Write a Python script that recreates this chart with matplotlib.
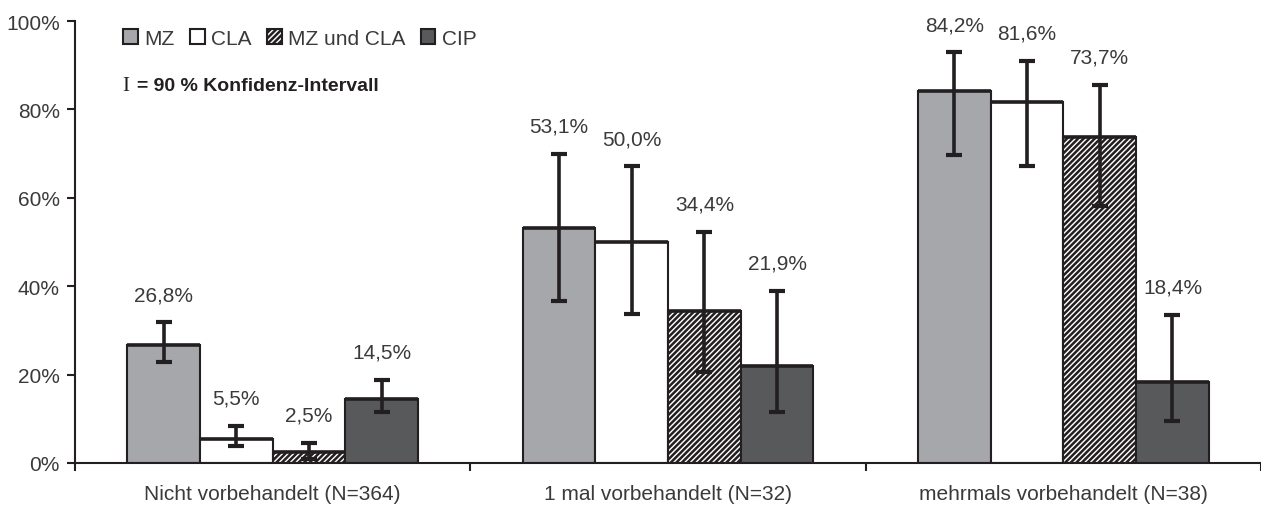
import matplotlib
matplotlib.use("Agg")
import matplotlib.pyplot as plt
import numpy as np

plt.rcParams['font.family'] = ['Liberation Sans Narrow', 'Liberation Sans', 'DejaVu Sans']
plt.rcParams['hatch.linewidth'] = 1.8

# Daten
gruppen = ["Nicht vorbehandelt (N=364)", "1 mal vorbehandelt (N=32)", "mehrmals vorbehandelt (N=38)"]
serien = ["MZ", "CLA", "MZ und CLA", "CIP"]
werte = {
    "MZ":         [26.8, 53.1, 84.2],
    "CLA":        [5.5, 50.0, 81.6],
    "MZ und CLA": [2.5, 34.4, 73.7],
    "CIP":        [14.5, 21.9, 18.4],
}
ki_unten = {
    "MZ":         [22.8, 36.7, 69.7],
    "CLA":        [3.9, 33.7, 67.1],
    "MZ und CLA": [0.9, 20.5, 58.2],
    "CIP":        [11.5, 11.5, 9.6],
}
ki_oben = {
    "MZ":         [31.8, 69.9, 92.9],
    "CLA":        [8.3, 67.1, 91.0],
    "MZ und CLA": [4.5, 52.2, 85.6],
    "CIP":        [18.8, 39.0, 33.5],
}

stil = {
    "MZ":         dict(color="#a6a7ab", hatch=None),
    "CLA":        dict(color="white", hatch=None),
    "MZ und CLA": dict(color="white", hatch="//////"),
    "CIP":        dict(color="#58595b", hatch=None),
}

dunkel = "#231f20"
textfarbe = "#3a3a3a"

fig = plt.figure(figsize=(12.61, 5.06), dpi=100)
ax = fig.add_axes([75 / 1261, 42 / 506, 1 - 75 / 1261, 442 / 506])

x = np.arange(len(gruppen))
breite = 0.184

for i, s in enumerate(serien):
    pos = x + (i - 1.5) * breite
    w = np.array(werte[s])
    ax.bar(pos, w, breite, color=stil[s]["color"], hatch=stil[s]["hatch"],
           edgecolor=dunkel, linewidth=1.5, label=s, zorder=2)
    # obere Kante etwas kraeftiger wie im Original
    ax.hlines(w, pos - breite / 2, pos + breite / 2, colors=dunkel, linewidth=2.6, zorder=2.5)
    lo = w - np.array(ki_unten[s])
    hi = np.array(ki_oben[s]) - w
    ax.errorbar(pos, w, yerr=[lo, hi], fmt="none", ecolor=dunkel, elinewidth=2.6,
                capsize=6, capthick=3, zorder=3)
    for xp, v, o in zip(pos, w, ki_oben[s]):
        ax.text(xp, o + 6.3, f"{v:.1f}%".replace(".", ","), ha="center", va="center",
                fontsize=15, color=textfarbe)

ax.set_xlim(-0.5, 2.5)
ax.set_ylim(0, 100)
ax.set_yticks(range(0, 101, 20))
ax.set_yticklabels([f"{t}%" for t in range(0, 101, 20)], fontsize=15, color=textfarbe)
ax.set_xticks(x)
ax.set_xticklabels(gruppen, fontsize=15, color=textfarbe)
ax.tick_params(axis="x", which="major", length=0, pad=15)
ax.set_xticks([-0.5, 0.5, 1.5, 2.5], minor=True)
ax.tick_params(axis="x", which="minor", length=6, width=1.5, color=dunkel, direction="out")
ax.tick_params(axis="y", length=6, width=1.5, color=dunkel, direction="out", pad=5)

for side in ["top", "right"]:
    ax.spines[side].set_visible(False)
for side in ["left", "bottom"]:
    ax.spines[side].set_color(dunkel)
    ax.spines[side].set_linewidth(1.5)

leg = ax.legend(loc="upper left", bbox_to_anchor=(0.025, 1.025), ncol=4, frameon=False,
                fontsize=15, handlelength=0.7, handleheight=0.7, handletextpad=0.3,
                columnspacing=0.75, labelcolor=textfarbe)

ax.text(0.04, 0.855, "I", transform=ax.transAxes, fontsize=15, family="Liberation Serif",
        color=dunkel, va="center")
ax.text(0.052, 0.855, "= 90 % Konfidenz-Intervall", transform=ax.transAxes, fontsize=14,
        fontweight="bold", color=dunkel, va="center")

fig.savefig("out.png", dpi=100)
